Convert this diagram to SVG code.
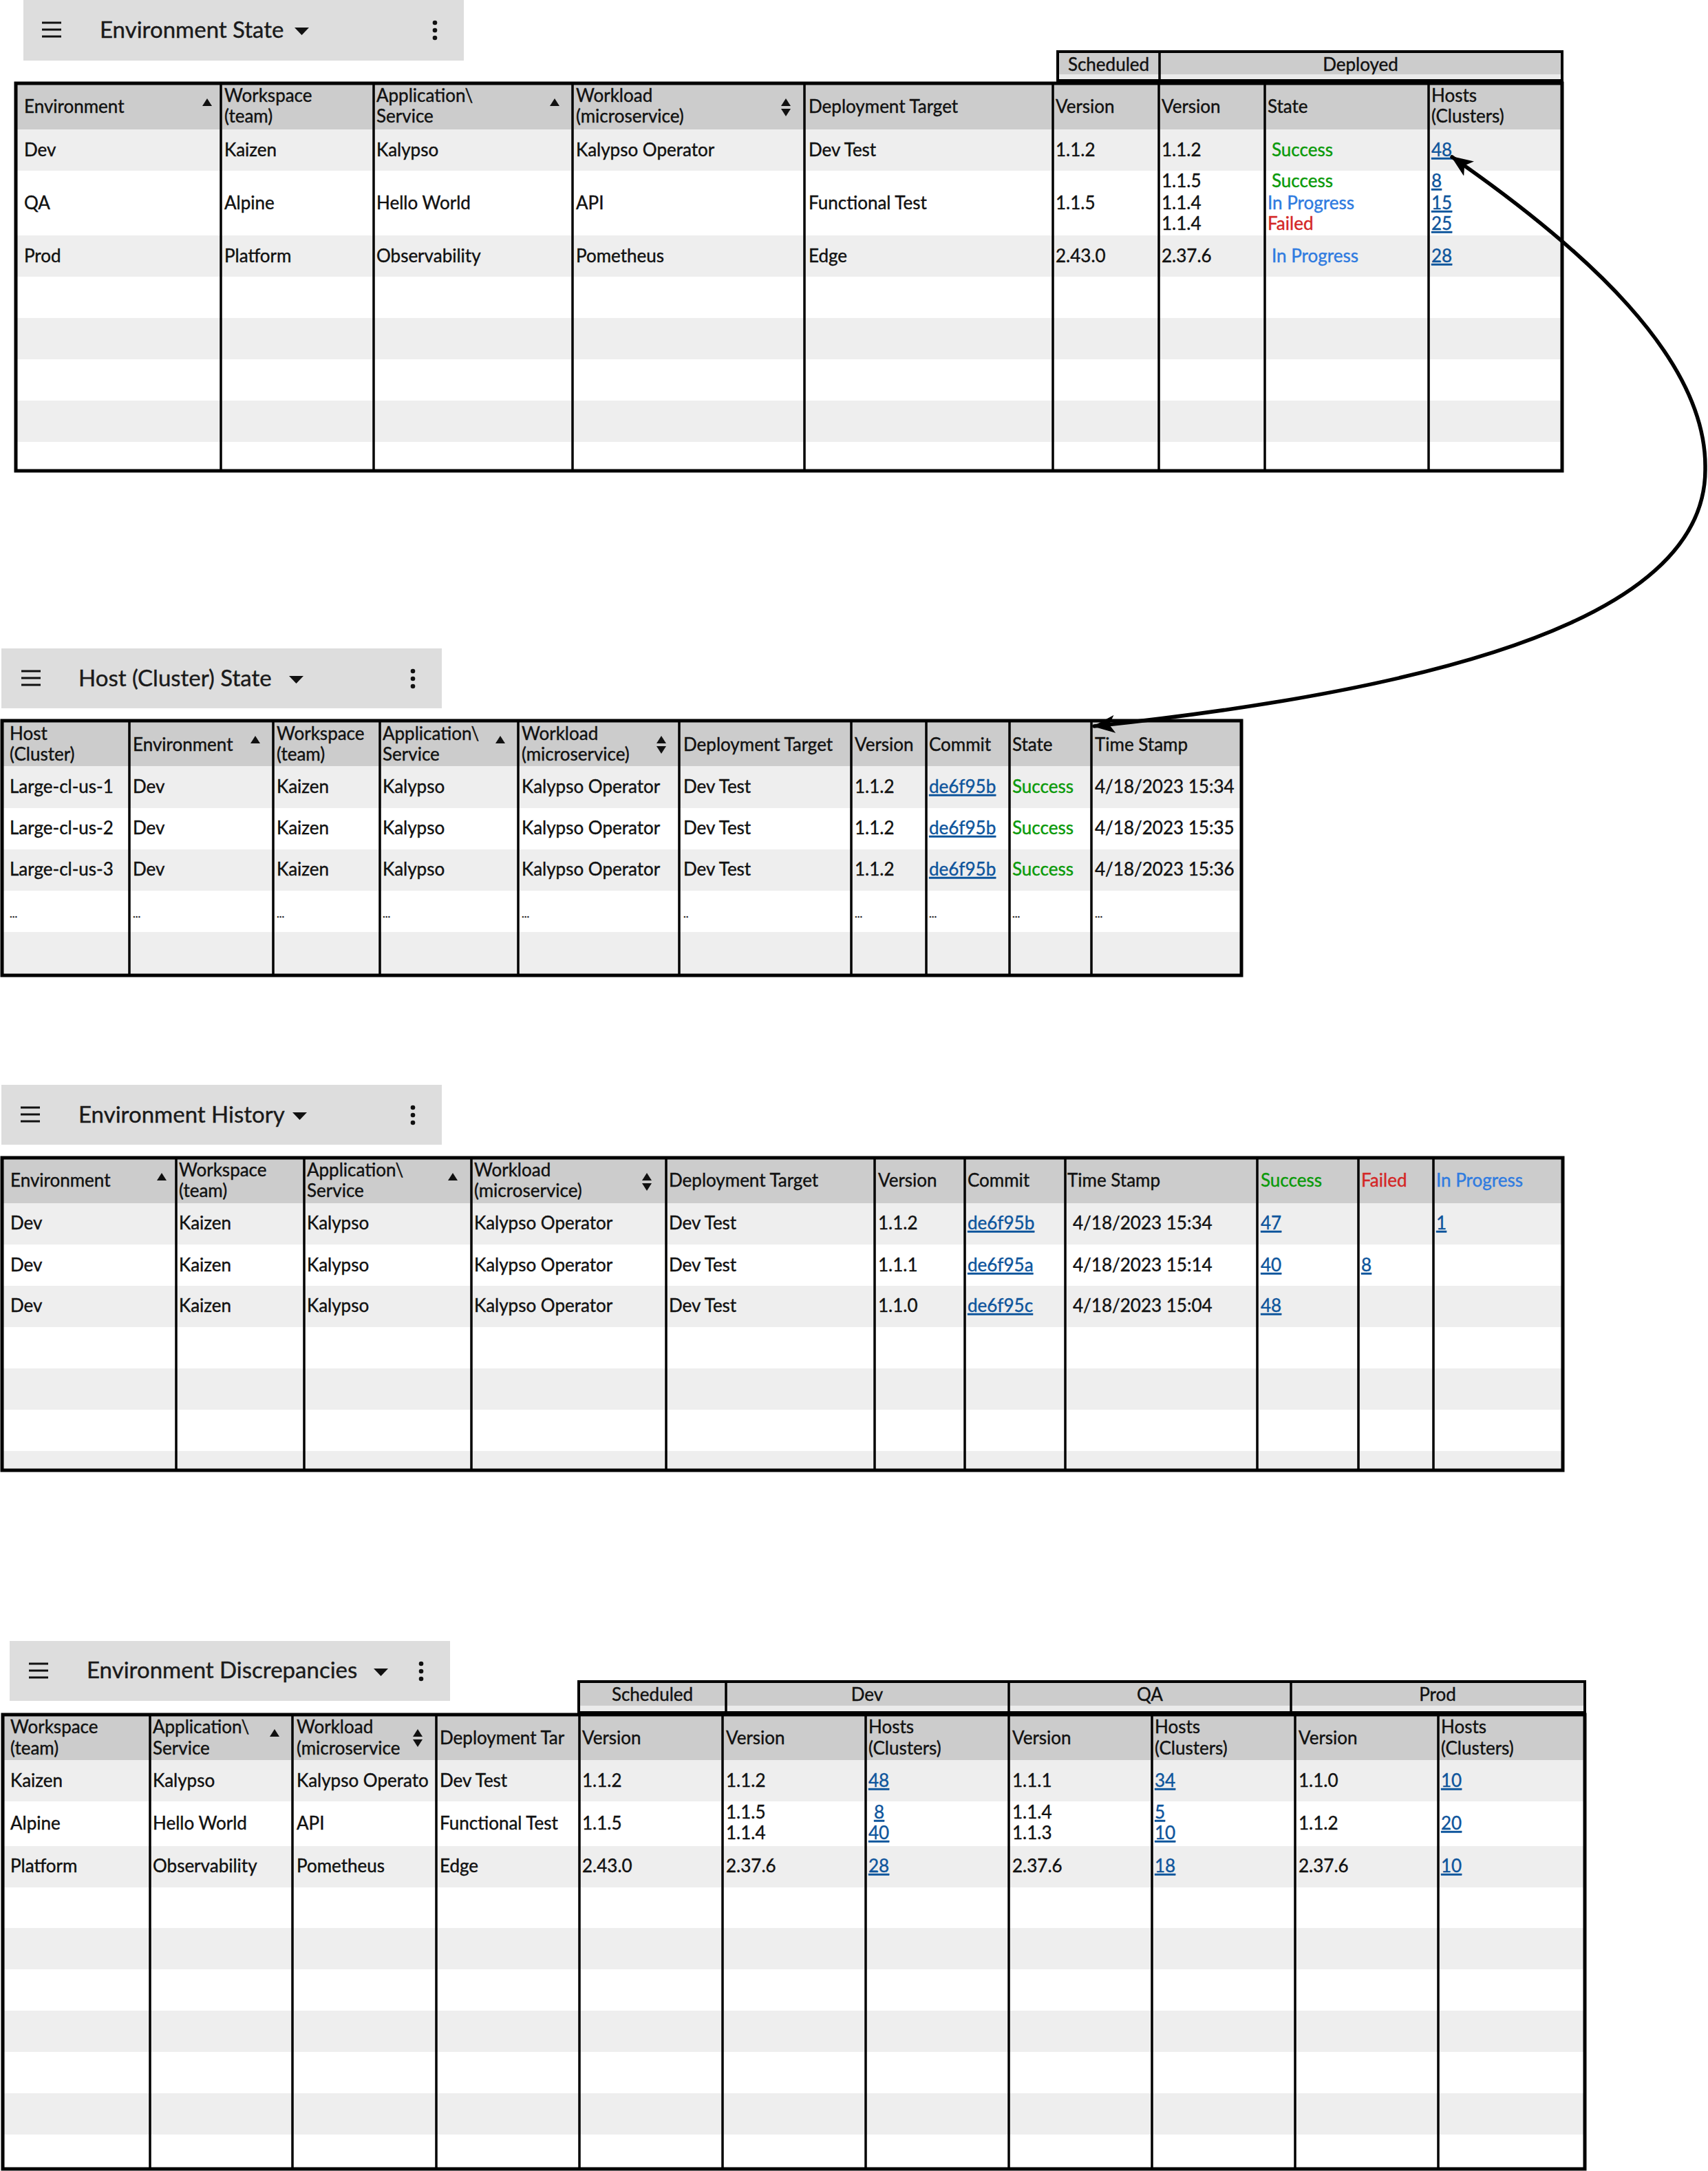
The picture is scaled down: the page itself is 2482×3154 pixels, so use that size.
<svg xmlns="http://www.w3.org/2000/svg" xmlns:xlink="http://www.w3.org/1999/xlink" width="2482" height="3154" viewBox="0 0 2482 3154">
<style>
text{font-family:Lato,"Liberation Sans",sans-serif;font-size:26px;fill:#111;stroke:#111;stroke-width:0.4}
.ti{font-size:33px;fill:#1a1a1a;stroke:#1a1a1a}
.c{text-anchor:middle}
.g{fill:#0a9a0a;stroke:#0a9a0a}
.b{fill:#2f7be0;stroke:#2f7be0}
.r{fill:#d42626;stroke:#d42626}
.lk{fill:#0e559c;stroke:#0e559c;text-decoration:underline}
.dots{font-size:16px}
.bar{fill:#dddddd}
.hd{fill:#cccccc}
.alt{fill:#eeeeee}
.frame{fill:none;stroke:#000;stroke-width:5}
.col{stroke:#000;stroke-width:3.5}
.grp{fill:#cccccc;stroke:#000;stroke-width:4}
.strip{fill:#ebebeb}
.conn{fill:none;stroke:#000;stroke-width:5.5;stroke-linecap:round}
</style>
<defs>
<g id="ham"><path d="M0,0H28M0,10H28M0,20H28" stroke="#111" stroke-width="3.2"/></g>
<g id="keb" fill="#111"><circle cx="0" cy="0" r="3.3"/><circle cx="0" cy="11" r="3.3"/><circle cx="0" cy="22" r="3.3"/></g>
<path id="dd" d="M0,0L21,0L10.5,11Z" fill="#111"/>
<path id="su" d="M-7,11L0,0L7,11Z" fill="#111"/>
<g id="sud" fill="#111"><path d="M-7,11L0,0L7,11Z"/><path d="M-7,15L7,15L0,26Z"/></g>
<marker id="ah" viewBox="0 0 32 26" refX="30" refY="13" markerWidth="32" markerHeight="26" markerUnits="userSpaceOnUse" orient="auto-start-reverse">
<path d="M0,0L32,13L0,26L8,13Z" fill="#000"/>
</marker>
</defs>

<!-- ===== Environment State ===== -->
<g id="environment-state">
<rect class="bar" x="34" y="0" width="640" height="88"/>
<use href="#ham" x="61" y="33"/>
<text class="ti" x="145" y="55">Environment State</text>
<use href="#dd" x="428" y="40"/>
<use href="#keb" x="632" y="33"/>

<rect class="grp" x="1537" y="75" width="733" height="42"/>
<rect class="strip" x="1539" y="108" width="729" height="7"/>
<line class="col" x1="1685" y1="75" x2="1685" y2="117"/>
<text class="c" x="1611" y="103">Scheduled</text>
<text class="c" x="1977" y="103">Deployed</text>

<rect class="hd" x="23" y="121" width="2247" height="67"/>
<rect class="alt" x="23" y="188" width="2247" height="60"/>
<rect class="alt" x="23" y="342" width="2247" height="60"/>
<rect class="alt" x="23" y="462" width="2247" height="60"/>
<rect class="alt" x="23" y="582" width="2247" height="60"/>
<g>
<line class="col" x1="321" y1="121" x2="321" y2="684"/>
<line class="col" x1="543" y1="121" x2="543" y2="684"/>
<line class="col" x1="832" y1="121" x2="832" y2="684"/>
<line class="col" x1="1169" y1="121" x2="1169" y2="684"/>
<line class="col" x1="1530" y1="121" x2="1530" y2="684"/>
<line class="col" x1="1684" y1="121" x2="1684" y2="684"/>
<line class="col" x1="1838" y1="121" x2="1838" y2="684"/>
<line class="col" x1="2076" y1="121" x2="2076" y2="684"/>
</g>
<rect class="frame" x="23" y="121" width="2247" height="563"/>

<text x="35" y="164">Environment</text>
<use href="#su" x="301" y="143"/>
<text x="326" y="148">Workspace</text><text x="326" y="178">(team)</text>
<text x="547" y="148">Application\</text><text x="547" y="178">Service</text>
<use href="#su" x="806" y="143"/>
<text x="837" y="148">Workload</text><text x="837" y="178">(microservice)</text>
<use href="#sud" x="1142" y="143"/>
<text x="1175" y="164">Deployment Target</text>
<text x="1534" y="164">Version</text>
<text x="1688" y="164">Version</text>
<text x="1842" y="164">State</text>
<text x="2080" y="148">Hosts</text><text x="2080" y="178">(Clusters)</text>

<text x="35" y="227">Dev</text>
<text x="326" y="227">Kaizen</text>
<text x="547" y="227">Kalypso</text>
<text x="837" y="227">Kalypso Operator</text>
<text x="1175" y="227">Dev Test</text>
<text x="1534" y="227">1.1.2</text>
<text x="1688" y="227">1.1.2</text>
<text class="g" x="1848" y="227">Success</text>
<text class="lk" x="2080" y="227">48</text>

<text x="35" y="304">QA</text>
<text x="326" y="304">Alpine</text>
<text x="547" y="304">Hello World</text>
<text x="837" y="304">API</text>
<text x="1175" y="304">Functional Test</text>
<text x="1534" y="304">1.1.5</text>
<text x="1688" y="272">1.1.5</text>
<text x="1688" y="304">1.1.4</text>
<text x="1688" y="334">1.1.4</text>
<text class="g" x="1848" y="272">Success</text>
<text class="b" x="1842" y="304">In Progress</text>
<text class="r" x="1842" y="334">Failed</text>
<text class="lk" x="2080" y="272">8</text>
<text class="lk" x="2080" y="304">15</text>
<text class="lk" x="2080" y="334">25</text>

<text x="35" y="381">Prod</text>
<text x="326" y="381">Platform</text>
<text x="547" y="381">Observability</text>
<text x="837" y="381">Pometheus</text>
<text x="1175" y="381">Edge</text>
<text x="1534" y="381">2.43.0</text>
<text x="1688" y="381">2.37.6</text>
<text class="b" x="1848" y="381">In Progress</text>
<text class="lk" x="2080" y="381">28</text>
</g>

<!-- ===== Host (Cluster) State ===== -->
<g id="host-cluster-state">
<rect class="bar" x="2" y="942" width="640" height="87"/>
<use href="#ham" x="31" y="975"/>
<text class="ti" x="114" y="997">Host (Cluster) State</text>
<use href="#dd" x="420" y="982"/>
<use href="#keb" x="600" y="975"/>

<rect class="hd" x="3" y="1047" width="1801" height="66"/>
<rect class="alt" x="3" y="1113" width="1801" height="61"/>
<rect class="alt" x="3" y="1234" width="1801" height="60"/>
<rect class="alt" x="3" y="1354" width="1801" height="63"/>
<g>
<line class="col" x1="188" y1="1047" x2="188" y2="1417"/>
<line class="col" x1="397" y1="1047" x2="397" y2="1417"/>
<line class="col" x1="552" y1="1047" x2="552" y2="1417"/>
<line class="col" x1="753" y1="1047" x2="753" y2="1417"/>
<line class="col" x1="987" y1="1047" x2="987" y2="1417"/>
<line class="col" x1="1237" y1="1047" x2="1237" y2="1417"/>
<line class="col" x1="1346" y1="1047" x2="1346" y2="1417"/>
<line class="col" x1="1467" y1="1047" x2="1467" y2="1417"/>
<line class="col" x1="1586" y1="1047" x2="1586" y2="1417"/>
</g>
<rect class="frame" x="3" y="1047" width="1801" height="370"/>

<text x="14" y="1075">Host</text><text x="14" y="1105">(Cluster)</text>
<text x="193" y="1091">Environment</text>
<use href="#su" x="371" y="1069"/>
<text x="402" y="1075">Workspace</text><text x="402" y="1105">(team)</text>
<text x="556" y="1075">Application\</text><text x="556" y="1105">Service</text>
<use href="#su" x="727" y="1069"/>
<text x="758" y="1075">Workload</text><text x="758" y="1105">(microservice)</text>
<use href="#sud" x="961" y="1069"/>
<text x="993" y="1091">Deployment Target</text>
<text x="1242" y="1091">Version</text>
<text x="1350" y="1091">Commit</text>
<text x="1471" y="1091">State</text>
<text x="1591" y="1091">Time Stamp</text>

<text x="14" y="1152">Large-cl-us-1</text>
<text x="193" y="1152">Dev</text>
<text x="402" y="1152">Kaizen</text>
<text x="556" y="1152">Kalypso</text>
<text x="758" y="1152">Kalypso Operator</text>
<text x="993" y="1152">Dev Test</text>
<text x="1242" y="1152">1.1.2</text>
<text class="lk" x="1350" y="1152">de6f95b</text>
<text class="g" x="1471" y="1152">Success</text>
<text x="1591" y="1152">4/18/2023 15:34</text>

<text x="14" y="1212">Large-cl-us-2</text>
<text x="193" y="1212">Dev</text>
<text x="402" y="1212">Kaizen</text>
<text x="556" y="1212">Kalypso</text>
<text x="758" y="1212">Kalypso Operator</text>
<text x="993" y="1212">Dev Test</text>
<text x="1242" y="1212">1.1.2</text>
<text class="lk" x="1350" y="1212">de6f95b</text>
<text class="g" x="1471" y="1212">Success</text>
<text x="1591" y="1212">4/18/2023 15:35</text>

<text x="14" y="1272">Large-cl-us-3</text>
<text x="193" y="1272">Dev</text>
<text x="402" y="1272">Kaizen</text>
<text x="556" y="1272">Kalypso</text>
<text x="758" y="1272">Kalypso Operator</text>
<text x="993" y="1272">Dev Test</text>
<text x="1242" y="1272">1.1.2</text>
<text class="lk" x="1350" y="1272">de6f95b</text>
<text class="g" x="1471" y="1272">Success</text>
<text x="1591" y="1272">4/18/2023 15:36</text>

<text class="dots" x="14" y="1333">...</text>
<text class="dots" x="193" y="1333">...</text>
<text class="dots" x="402" y="1333">...</text>
<text class="dots" x="556" y="1333">...</text>
<text class="dots" x="758" y="1333">...</text>
<text class="dots" x="993" y="1333">..</text>
<text class="dots" x="1242" y="1333">...</text>
<text class="dots" x="1350" y="1333">...</text>
<text class="dots" x="1471" y="1333">...</text>
<text class="dots" x="1591" y="1333">...</text>
</g>

<!-- ===== Environment History ===== -->
<g id="environment-history">
<rect class="bar" x="2" y="1576" width="640" height="87"/>
<use href="#ham" x="30" y="1609"/>
<text class="ti" x="114" y="1631">Environment History</text>
<use href="#dd" x="425" y="1616"/>
<use href="#keb" x="600" y="1609"/>

<rect class="hd" x="3" y="1682" width="2268" height="66"/>
<rect class="alt" x="3" y="1748" width="2268" height="60"/>
<rect class="alt" x="3" y="1868" width="2268" height="60"/>
<rect class="alt" x="3" y="1988" width="2268" height="60"/>
<rect class="alt" x="3" y="2108" width="2268" height="28"/>
<g>
<line class="col" x1="256" y1="1682" x2="256" y2="2136"/>
<line class="col" x1="442" y1="1682" x2="442" y2="2136"/>
<line class="col" x1="685" y1="1682" x2="685" y2="2136"/>
<line class="col" x1="968" y1="1682" x2="968" y2="2136"/>
<line class="col" x1="1271" y1="1682" x2="1271" y2="2136"/>
<line class="col" x1="1402" y1="1682" x2="1402" y2="2136"/>
<line class="col" x1="1548" y1="1682" x2="1548" y2="2136"/>
<line class="col" x1="1827" y1="1682" x2="1827" y2="2136"/>
<line class="col" x1="1974" y1="1682" x2="1974" y2="2136"/>
<line class="col" x1="2083" y1="1682" x2="2083" y2="2136"/>
</g>
<rect class="frame" x="3" y="1682" width="2268" height="454"/>

<text x="15" y="1724">Environment</text>
<use href="#su" x="235" y="1704"/>
<text x="260" y="1709">Workspace</text><text x="260" y="1739">(team)</text>
<text x="446" y="1709">Application\</text><text x="446" y="1739">Service</text>
<use href="#su" x="658" y="1704"/>
<text x="689" y="1709">Workload</text><text x="689" y="1739">(microservice)</text>
<use href="#sud" x="940" y="1704"/>
<text x="972" y="1724">Deployment Target</text>
<text x="1276" y="1724">Version</text>
<text x="1406" y="1724">Commit</text>
<text x="1551" y="1724">Time Stamp</text>
<text class="g" x="1832" y="1724">Success</text>
<text class="r" x="1978" y="1724">Failed</text>
<text class="b" x="2087" y="1724">In Progress</text>

<text x="15" y="1786">Dev</text>
<text x="260" y="1786">Kaizen</text>
<text x="446" y="1786">Kalypso</text>
<text x="689" y="1786">Kalypso Operator</text>
<text x="972" y="1786">Dev Test</text>
<text x="1276" y="1786">1.1.2</text>
<text class="lk" x="1406" y="1786">de6f95b</text>
<text x="1559" y="1786">4/18/2023 15:34</text>
<text class="lk" x="1832" y="1786">47</text>
<text class="lk" x="2087" y="1786">1</text>

<text x="15" y="1847">Dev</text>
<text x="260" y="1847">Kaizen</text>
<text x="446" y="1847">Kalypso</text>
<text x="689" y="1847">Kalypso Operator</text>
<text x="972" y="1847">Dev Test</text>
<text x="1276" y="1847">1.1.1</text>
<text class="lk" x="1406" y="1847">de6f95a</text>
<text x="1559" y="1847">4/18/2023 15:14</text>
<text class="lk" x="1832" y="1847">40</text>
<text class="lk" x="1978" y="1847">8</text>

<text x="15" y="1906">Dev</text>
<text x="260" y="1906">Kaizen</text>
<text x="446" y="1906">Kalypso</text>
<text x="689" y="1906">Kalypso Operator</text>
<text x="972" y="1906">Dev Test</text>
<text x="1276" y="1906">1.1.0</text>
<text class="lk" x="1406" y="1906">de6f95c</text>
<text x="1559" y="1906">4/18/2023 15:04</text>
<text class="lk" x="1832" y="1906">48</text>
</g>

<!-- ===== Environment Discrepancies ===== -->
<g id="environment-discrepancies">
<rect class="bar" x="14" y="2384" width="640" height="87"/>
<use href="#ham" x="42" y="2417"/>
<text class="ti" x="126" y="2438">Environment Discrepancies</text>
<use href="#dd" x="543" y="2424"/>
<use href="#keb" x="612" y="2417"/>

<rect class="grp" x="841" y="2443" width="1462" height="45"/>
<rect class="strip" x="843" y="2478" width="1458" height="8"/>
<line class="col" x1="1055" y1="2443" x2="1055" y2="2488"/>
<line class="col" x1="1466" y1="2443" x2="1466" y2="2488"/>
<line class="col" x1="1876" y1="2443" x2="1876" y2="2488"/>
<text class="c" x="948" y="2471">Scheduled</text>
<text class="c" x="1260" y="2471">Dev</text>
<text class="c" x="1671" y="2471">QA</text>
<text class="c" x="2089" y="2471">Prod</text>

<rect class="hd" x="4" y="2491" width="2299" height="66"/>
<rect class="alt" x="4" y="2557" width="2299" height="60"/>
<rect class="alt" x="4" y="2682" width="2299" height="60"/>
<rect class="alt" x="4" y="2801" width="2299" height="60"/>
<rect class="alt" x="4" y="2921" width="2299" height="60"/>
<rect class="alt" x="4" y="3041" width="2299" height="60"/>
<g>
<line class="col" x1="218" y1="2491" x2="218" y2="3151"/>
<line class="col" x1="425" y1="2491" x2="425" y2="3151"/>
<line class="col" x1="634" y1="2491" x2="634" y2="3151"/>
<line class="col" x1="842" y1="2491" x2="842" y2="3151"/>
<line class="col" x1="1050" y1="2491" x2="1050" y2="3151"/>
<line class="col" x1="1258" y1="2491" x2="1258" y2="3151"/>
<line class="col" x1="1466" y1="2491" x2="1466" y2="3151"/>
<line class="col" x1="1674" y1="2491" x2="1674" y2="3151"/>
<line class="col" x1="1882" y1="2491" x2="1882" y2="3151"/>
<line class="col" x1="2090" y1="2491" x2="2090" y2="3151"/>
</g>
<rect class="frame" x="4" y="2491" width="2299" height="660"/>

<text x="15" y="2518">Workspace</text><text x="15" y="2549">(team)</text>
<text x="222" y="2518">Application\</text><text x="222" y="2549">Service</text>
<use href="#su" x="399" y="2512"/>
<text x="431" y="2518">Workload</text><text x="431" y="2549">(microservice</text>
<use href="#sud" x="607" y="2512"/>
<text x="639" y="2534">Deployment Tar</text>
<text x="846" y="2534">Version</text>
<text x="1055" y="2534">Version</text>
<text x="1262" y="2518">Hosts</text><text x="1262" y="2549">(Clusters)</text>
<text x="1471" y="2534">Version</text>
<text x="1678" y="2518">Hosts</text><text x="1678" y="2549">(Clusters)</text>
<text x="1887" y="2534">Version</text>
<text x="2094" y="2518">Hosts</text><text x="2094" y="2549">(Clusters)</text>

<text x="15" y="2596">Kaizen</text>
<text x="222" y="2596">Kalypso</text>
<text x="431" y="2596">Kalypso Operato</text>
<text x="639" y="2596">Dev Test</text>
<text x="846" y="2596">1.1.2</text>
<text x="1055" y="2596">1.1.2</text>
<text class="lk" x="1262" y="2596">48</text>
<text x="1471" y="2596">1.1.1</text>
<text class="lk" x="1678" y="2596">34</text>
<text x="1887" y="2596">1.1.0</text>
<text class="lk" x="2094" y="2596">10</text>

<text x="15" y="2658">Alpine</text>
<text x="222" y="2658">Hello World</text>
<text x="431" y="2658">API</text>
<text x="639" y="2658">Functional Test</text>
<text x="846" y="2658">1.1.5</text>
<text x="1055" y="2642">1.1.5</text>
<text x="1055" y="2672">1.1.4</text>
<text class="lk" x="1270" y="2642">8</text>
<text class="lk" x="1262" y="2672">40</text>
<text x="1471" y="2642">1.1.4</text>
<text x="1471" y="2672">1.1.3</text>
<text class="lk" x="1678" y="2642">5</text>
<text class="lk" x="1678" y="2672">10</text>
<text x="1887" y="2658">1.1.2</text>
<text class="lk" x="2094" y="2658">20</text>

<text x="15" y="2720">Platform</text>
<text x="222" y="2720">Observability</text>
<text x="431" y="2720">Pometheus</text>
<text x="639" y="2720">Edge</text>
<text x="846" y="2720">2.43.0</text>
<text x="1055" y="2720">2.37.6</text>
<text class="lk" x="1262" y="2720">28</text>
<text x="1471" y="2720">2.37.6</text>
<text class="lk" x="1678" y="2720">18</text>
<text x="1887" y="2720">2.37.6</text>
<text class="lk" x="2094" y="2720">10</text>
</g>

<!-- ===== Connectors ===== -->
<g id="connectors">
<path class="conn" d="M2110,228 C2300,360 2480,520 2478,680 C2480,850 2250,985 1590,1055" marker-start="url(#ah)" marker-end="url(#ah)"/>
</g>
</svg>
